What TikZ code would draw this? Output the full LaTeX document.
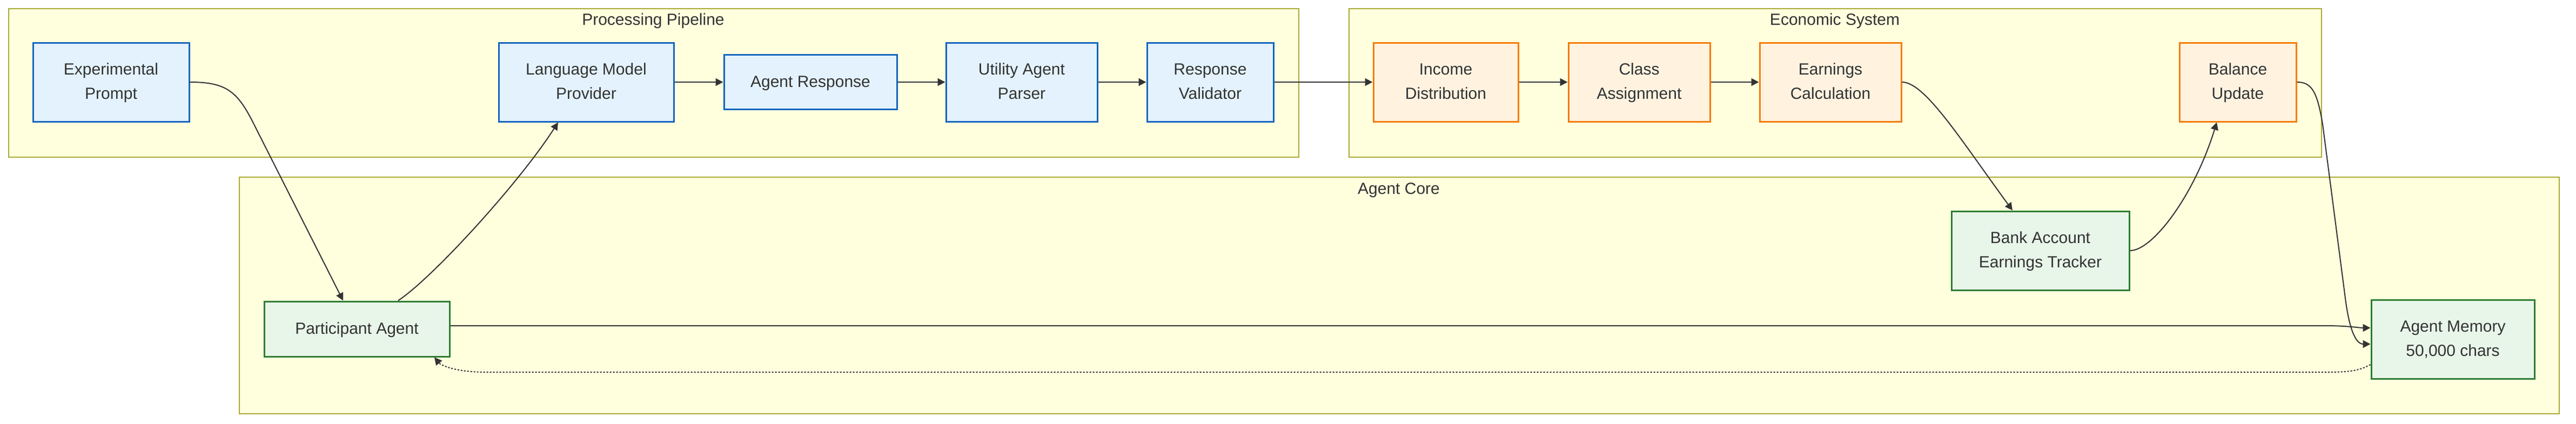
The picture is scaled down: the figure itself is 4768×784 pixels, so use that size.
\documentclass[tikz,border=0pt]{standalone}
\usepackage{fontspec}
\setmainfont{Liberation Sans}
\usetikzlibrary{arrows.meta,calc}
\definecolor{clfill}{HTML}{FFFFDE}
\definecolor{clline}{HTML}{AAAA33}
\definecolor{bfill}{HTML}{E3F2FD}
\definecolor{bline}{HTML}{1565C0}
\definecolor{ofill}{HTML}{FFF3E0}
\definecolor{oline}{HTML}{F57C00}
\definecolor{gfill}{HTML}{E8F5E9}
\definecolor{gline}{HTML}{2E7D32}
\definecolor{txt}{HTML}{333333}
\begin{document}
\begin{tikzpicture}[x=0.25pt,y=-0.25pt,
  every node/.style={text=txt, font=\fontsize{7.5pt}{11.25pt}\selectfont, align=center, inner sep=0pt},
  frame/.style={draw=clline, fill=clfill, line width=0.5pt, rectangle, anchor=north west},
  sz/.style 2 args={minimum width=#1*0.25pt, minimum height=#2*0.25pt},
  bluebox/.style={draw=bline, fill=bfill, line width=0.75pt, rectangle},
  orangebox/.style={draw=oline, fill=ofill, line width=0.75pt, rectangle},
  greenbox/.style={draw=gline, fill=gfill, line width=0.75pt, rectangle},
  conn/.style={draw=txt, line width=0.5pt, -{Triangle[length=3.5pt,width=3.5pt]}},
  dotconn/.style={conn, dash pattern=on 0.75pt off 0.75pt}
]
\useasboundingbox (0,0) rectangle (4768,784);
% clusters
\node[frame, sz={2388}{275}] (PPf) at (15,15) {};
\node[frame, sz={1800}{275}] (ESf) at (2496,15) {};
\node[frame, sz={4294}{438}] (ACf) at (442,327) {};
\node[anchor=base] (PPt) at (1209,46) {Processing Pipeline};
\node[anchor=base] (ESt) at (3396,46) {Economic System};
\node[anchor=base] (ACt) at (2589,359) {Agent Core};
% pipeline
\node[bluebox, sz={289}{146}] (EP) at (205.5,152) {\strut Experimental\\\strut Prompt};
\node[bluebox, sz={324}{146}] (LMP) at (1085,152) {\strut Language Model\\\strut Provider};
\node[bluebox, sz={320}{101}] (AR) at (1500,152) {\strut Agent Response};
\node[bluebox, sz={280}{146}] (UAP) at (1891,152) {\strut Utility Agent\\\strut Parser};
\node[bluebox, sz={234}{146}] (RV) at (2240,152) {\strut Response\\\strut Validator};
% economic
\node[orangebox, sz={268}{146}] (ID) at (2676,152) {\strut Income\\\strut Distribution};
\node[orangebox, sz={262}{146}] (CA) at (3034,152) {\strut Class\\\strut Assignment};
\node[orangebox, sz={262}{146}] (EC) at (3388,152) {\strut Earnings\\\strut Calculation};
\node[orangebox, sz={216}{146}] (BU) at (4142,152) {\strut Balance\\\strut Update};
% core
\node[greenbox, sz={343}{102}] (PA) at (660.5,609) {\strut Participant Agent};
\node[greenbox, sz={329}{146}] (BA) at (3776.5,464) {\strut Bank Account\\\strut Earnings Tracker};
\node[greenbox, sz={302}{146}] (AM) at (4540,628) {\strut Agent Memory\\\strut 50,000 chars};
% connectors
\draw[conn] (EP.east) .. controls (420,152) and (440,170) .. (470,230) -- (635,0 |- PA.north);
\draw[conn] (737,0 |- PA.north) .. controls (800,515) and (960,340) .. (1033,0 |- LMP.south);
\draw[conn] (LMP) -- (AR);
\draw[conn] (AR) -- (UAP);
\draw[conn] (UAP) -- (RV);
\draw[conn] (RV) -- (ID);
\draw[conn] (ID) -- (CA);
\draw[conn] (CA) -- (EC);
\draw[conn] (EC.east) .. controls (3563,152) and (3630,260) .. (3725,0 |- BA.north);
\draw[conn] (BA.east) .. controls (3985,464) and (4062,360) .. (4103,0 |- BU.south);
\draw[conn] (BU.east) .. controls (4279,152) and (4289,170) .. (4299,230) -- (4342,560) .. controls (4352,630) and (4367,637) .. (AM.west |- 0,637);
\draw[conn] (PA.east |- 0,603) -- (4305,603) .. controls (4345,603) and (4366,607) .. (AM.west |- 0,607);
\draw[dotconn] (AM.west |- 0,675) .. controls (4366,687) and (4346,689) .. (4306,689) -- (900,689) .. controls (840,689) and (815,675) .. (804,0 |- PA.south);
\end{tikzpicture}
\end{document}
